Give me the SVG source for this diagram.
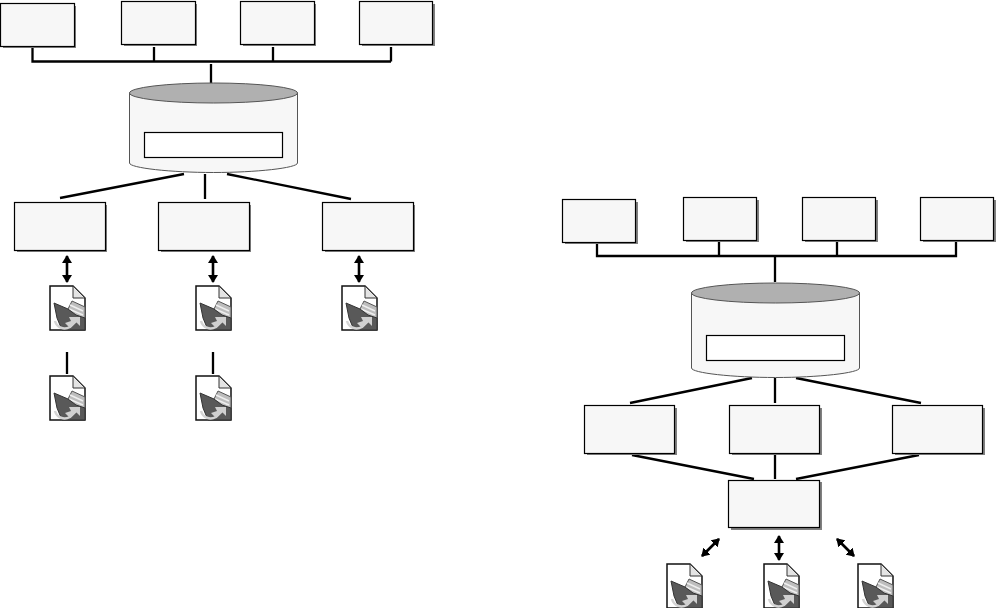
<svg xmlns="http://www.w3.org/2000/svg" width="996" height="608" viewBox="0 0 996 608">
<style>
.s{fill:#808080}
.b{fill:#f7f7f7;stroke:#000;stroke-width:1.2}
.l{fill:none;stroke:#000;stroke-width:2.300}
.a{fill:none;stroke:#000;stroke-width:2.600;marker-start:url(#ah);marker-end:url(#ah)}
.cy{fill:#f7f7f7;stroke:#555;stroke-width:1}
.ct{fill:#b0b0b0;stroke:#555;stroke-width:1}
.in{fill:#fff;stroke:#000;stroke-width:1.2}
</style>
<defs>
<marker id="ah" viewBox="0 0 8 10" refX="7" refY="5" markerWidth="8" markerHeight="10" markerUnits="userSpaceOnUse" orient="auto-start-reverse"><path d="M0,0L8,5L0,10Z" fill="#000"/></marker>
<symbol id="icon" width="37" height="46" viewBox="0 0 37 46" overflow="visible">
<path d="M1,1H24L36,13V45H1Z" fill="#fff" stroke="#111" stroke-width="1.500"/>
<path d="M24,1V13H36Z" fill="#e4e4e4" stroke="#333" stroke-width="1"/>
<path d="M19,24L23,16L36,22V36L24,32Z" fill="#bdbdbd" stroke="#555" stroke-width="1"/>
<path d="M21,20L34,26M20,24L34,30" stroke="#eee" stroke-width="1.500" fill="none"/>
<path d="M5,18L19,24L27,30L36,33V45H13L8,33Z" fill="#595959" stroke="#333" stroke-width="1"/>
<path d="M6,36C8,43 15,45 21,42L27,36" fill="none" stroke="#d4d4d4" stroke-width="2.500"/>
<path d="M20,32H31V41L27,37L21,43L16,38L22,36Z" fill="#d0d0d0"/>
</symbol>
</defs>
<g id="connectors">
<path class="l" d="M32.500 47V61.500H391M154 47V61.500M273 47V61.500M391 47V61.500M211 64V83"/>
<path class="l" d="M60 198L184 174M205 174V199M227 174L351 199"/>
<path class="a" d="M67 256V282"/>
<path class="a" d="M213 256V282"/>
<path class="a" d="M359 256V282"/>
<path class="l" d="M67 352V374M213 352V374"/>
<path class="l" d="M597 243V256H956V241M719 241V256M837 241V256M775 256V282"/>
<path class="l" d="M630 403L752 378M775 378V403M796 378L921 403"/>
<path class="l" d="M632 455L754 479M775 455V479M796 479L919 455"/>
<path class="a" d="M702 556L719 539"/>
<path class="a" d="M779 536V560"/>
<path class="a" d="M854 556L837 539"/>
</g>
<g id="top-l1"><rect class="s" x="3" y="6" width="73" height="42"/><rect class="b" x="0.500" y="3.500" width="74" height="43"/></g>
<g id="top-l2"><rect class="s" x="124" y="4" width="73" height="42"/><rect class="b" x="121.500" y="1.500" width="74" height="43"/></g>
<g id="top-l3"><rect class="s" x="243" y="4" width="73" height="42"/><rect class="b" x="240.500" y="1.500" width="74" height="43"/></g>
<g id="top-l4"><rect class="s" x="362" y="4" width="73" height="42"/><rect class="b" x="359.500" y="1.500" width="73" height="43"/></g>
<g id="db-l">
<path class="cy" d="M129.500,93V163C129.500,168 171,172.500 213.500,172.500S297.500,168 297.500,163V93Z"/>
<ellipse class="ct" cx="213.500" cy="93" rx="84" ry="10"/>
<rect class="in" x="144.500" y="132.500" width="138" height="25"/>
</g>
<g id="mid-l1"><rect class="s" x="17" y="205" width="90" height="47"/><rect class="b" x="14.500" y="202.500" width="91" height="48"/></g>
<g id="mid-l2"><rect class="s" x="161" y="205" width="90" height="47"/><rect class="b" x="158.500" y="202.500" width="91" height="48"/></g>
<g id="mid-l3"><rect class="s" x="325" y="205" width="90" height="47"/><rect class="b" x="322.500" y="202.500" width="91" height="48"/></g>
<g id="icon-l1"><use href="#icon" x="49" y="285"/></g>
<g id="icon-l2"><use href="#icon" x="195" y="285"/></g>
<g id="icon-l3"><use href="#icon" x="341" y="285"/></g>
<g id="icon-l4"><use href="#icon" x="49" y="375"/></g>
<g id="icon-l5"><use href="#icon" x="195" y="375"/></g>
<g id="top-r1"><rect class="s" x="565" y="202" width="73" height="42"/><rect class="b" x="562.500" y="199.500" width="73" height="43"/></g>
<g id="top-r2"><rect class="s" x="686" y="200" width="73" height="42"/><rect class="b" x="683.500" y="197.500" width="73" height="43"/></g>
<g id="top-r3"><rect class="s" x="805" y="200" width="73" height="42"/><rect class="b" x="802.500" y="197.500" width="73" height="43"/></g>
<g id="top-r4"><rect class="s" x="923" y="200" width="73" height="42"/><rect class="b" x="920.500" y="197.500" width="73" height="43"/></g>
<g id="db-r">
<path class="cy" d="M691.500,293V368C691.500,373 733,377.500 775.500,377.500S859.500,373 859.500,368V293Z"/>
<ellipse class="ct" cx="775.500" cy="293" rx="84" ry="10"/>
<rect class="in" x="706.500" y="335.500" width="138" height="25"/>
</g>
<g id="mid-r1"><rect class="s" x="587" y="408" width="90" height="47"/><rect class="b" x="584.500" y="405.500" width="90" height="48"/></g>
<g id="mid-r2"><rect class="s" x="732" y="408" width="90" height="47"/><rect class="b" x="729.500" y="405.500" width="90" height="48"/></g>
<g id="mid-r3"><rect class="s" x="895" y="408" width="90" height="47"/><rect class="b" x="892.500" y="405.500" width="90" height="48"/></g>
<g id="hub-r"><rect class="s" x="731" y="482" width="91" height="48"/><rect class="b" x="728.500" y="480.500" width="91" height="47"/></g>
<g id="icon-r1"><use href="#icon" x="666" y="563"/></g>
<g id="icon-r2"><use href="#icon" x="763" y="563"/></g>
<g id="icon-r3"><use href="#icon" x="857" y="563"/></g>
</svg>
